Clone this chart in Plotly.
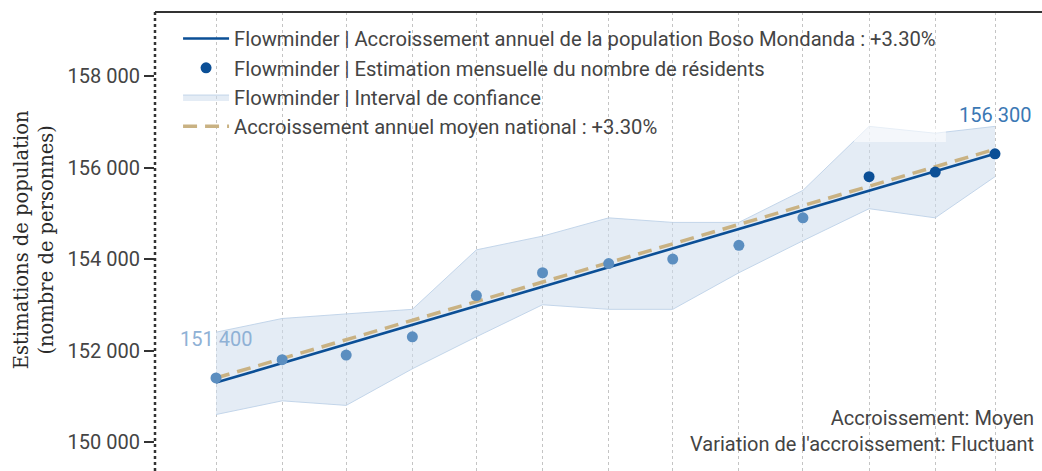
import pandas as pd
import plotly.graph_objects as go

# ---------------- data ----------------
dates = pd.date_range("2022-03-01", periods=13, freq="MS")
estimates = [151400, 151800, 151900, 152300, 153200, 153700, 153900,
             154000, 154300, 154900, 155800, 155900, 156300]
ci_lower = [150600, 150900, 150800, 151600, 152300, 153000, 152900,
            152900, 153700, 154400, 155100, 154900, 155800]
ci_upper = [152400, 152700, 152800, 152900, 154200, 154500, 154900,
            154800, 154800, 155500, 156900, 156750, 156900]
trend_local = [151300, 156300]       # start / end of Flowminder annual trend
trend_national = [151400, 156400]    # start / end of national average trend
point_is_recent = [False] * 10 + [True] * 3

legend_names = [
    "Flowminder | Accroissement annuel de la population Boso Mondanda : +3.30%",
    "Flowminder | Estimation mensuelle du nombre de résidents",
    "Flowminder | Interval de confiance",
    "Accroissement annuel moyen national : +3.30%",
]
y_ticks = [150000, 152000, 154000, 156000, 158000]
note_lines = ["Accroissement: Moyen", "Variation de l'accroissement: Fluctuant"]
y_title_lines = ["Estimations de population", "(nombre de personnes)"]

# ---------------- styling ----------------
DARK_BLUE = "#0b4f96"
LIGHT_PT = "#5b8ec0"
TAN = "#c9b283"
BAND_FILL = "rgba(205,220,237,0.55)"
BAND_LINE = "rgba(190,210,232,0.9)"
TXT = "#444444"
FONT = "Roboto"
FS = 20


def fmt(v):
    return f"{v:,}".replace(",", " ")


fig = go.Figure()

# confidence band
fig.add_trace(go.Scatter(
    x=dates, y=ci_lower, mode="lines", line=dict(color=BAND_LINE, width=1),
    showlegend=False, hoverinfo="skip", legendgroup="g3"))
fig.add_trace(go.Scatter(
    x=dates, y=ci_upper, mode="lines", line=dict(color=BAND_LINE, width=1),
    fill="tonexty", fillcolor=BAND_FILL, name=legend_names[2],
    legendrank=3, legendgroup="g3"))

# local trend (solid)
fig.add_trace(go.Scatter(
    x=[dates[0], dates[-1]], y=trend_local, mode="lines",
    line=dict(color=DARK_BLUE, width=2.6), name=legend_names[0],
    legendrank=1, legendgroup="g1"))

# national trend (dashed)
fig.add_trace(go.Scatter(
    x=[dates[0], dates[-1]], y=trend_national, mode="lines",
    line=dict(color=TAN, width=3.5, dash="14px,8px"), name=legend_names[3],
    legendrank=4, legendgroup="g4"))

# monthly estimates
colors = [DARK_BLUE if r else LIGHT_PT for r in point_is_recent]
fig.add_trace(go.Scatter(
    x=dates, y=estimates, mode="markers",
    marker=dict(color=colors, size=11),
    showlegend=False, legendgroup="g2"))
fig.add_trace(go.Scatter(
    x=[None], y=[None], mode="markers", marker=dict(color=DARK_BLUE, size=11),
    name=legend_names[1], legendrank=2, legendgroup="g2"))

# point labels (first and last)
fig.add_annotation(x=dates[0], y=estimates[0], text=fmt(estimates[0]),
                   showarrow=False, yshift=39,
                   font=dict(family=FONT, size=FS, color="#8fb1d5"))
fig.add_annotation(x=dates[-1], y=estimates[-1], text=fmt(estimates[-1]),
                   showarrow=False, yshift=39,
                   font=dict(family=FONT, size=FS, color="#3b78b4"))

# bottom-right note
fig.add_annotation(xref="paper", yref="paper", x=0.9935, y=0.087,
                   xanchor="right", yanchor="middle", align="right",
                   text="<br>".join(note_lines), showarrow=False,
                   font=dict(family=FONT, size=FS, color=TXT))

# y-axis title
fig.add_annotation(xref="paper", yref="paper", x=-0.1364, y=0.503,
                   xanchor="center", yanchor="middle", textangle=-90,
                   text="<br>".join(y_title_lines), showarrow=False,
                   font=dict(family="DejaVu Serif", size=19.5, color="#2a2a2a"))

# light overlay artefact on top of band
fig.add_shape(type="rect", xref="x", yref="y",
              x0=dates[10] - pd.Timedelta(days=7), x1=dates[11] + pd.Timedelta(days=5),
              y0=156557, y1=156950, fillcolor="rgba(255,255,255,0.6)",
              line=dict(width=0), layer="above")

# frame lines
fig.add_shape(type="line", xref="paper", yref="paper", x0=0, x1=1, y0=1, y1=1,
              line=dict(color="#333333", width=2))
fig.add_shape(type="line", xref="paper", yref="paper", x0=0, x1=0, y0=0, y1=1,
              line=dict(color="#333333", width=2.5, dash="dot"))

px_per_day = (995 - 216) / 365.0
x_range = [dates[0] - pd.Timedelta(days=61 / px_per_day),
           dates[-1] + pd.Timedelta(days=47 / px_per_day)]

fig.update_layout(
    width=1042, height=471,
    margin=dict(l=155, r=0, t=12, b=0),
    paper_bgcolor="white", plot_bgcolor="white",
    separators=". ",
    font=dict(family=FONT, size=FS, color=TXT),
    showlegend=True,
    legend=dict(x=0.026, y=0.985, xanchor="left", yanchor="top",
                bgcolor="rgba(0,0,0,0)", traceorder="normal",
                tracegroupgap=6, itemwidth=46,
                font=dict(family=FONT, size=20.2, color=TXT)),
    xaxis=dict(range=x_range, tickvals=dates, showticklabels=False,
               showgrid=True, gridcolor="#c4c4c4", gridwidth=1.2, griddash="dot",
               zeroline=False, showline=False, ticks=""),
    yaxis=dict(range=[149366, 159400], tickvals=y_ticks, tickformat=",d",
               showgrid=False, zeroline=False, showline=False,
               ticks="outside", ticklen=10, tickwidth=1.5, tickcolor="#333333",
               tickfont=dict(family=FONT, size=FS, color=TXT)),
)

fig.write_html("out.html", config={"displayModeBar": False},
               post_script="document.body.style.margin='0';")
